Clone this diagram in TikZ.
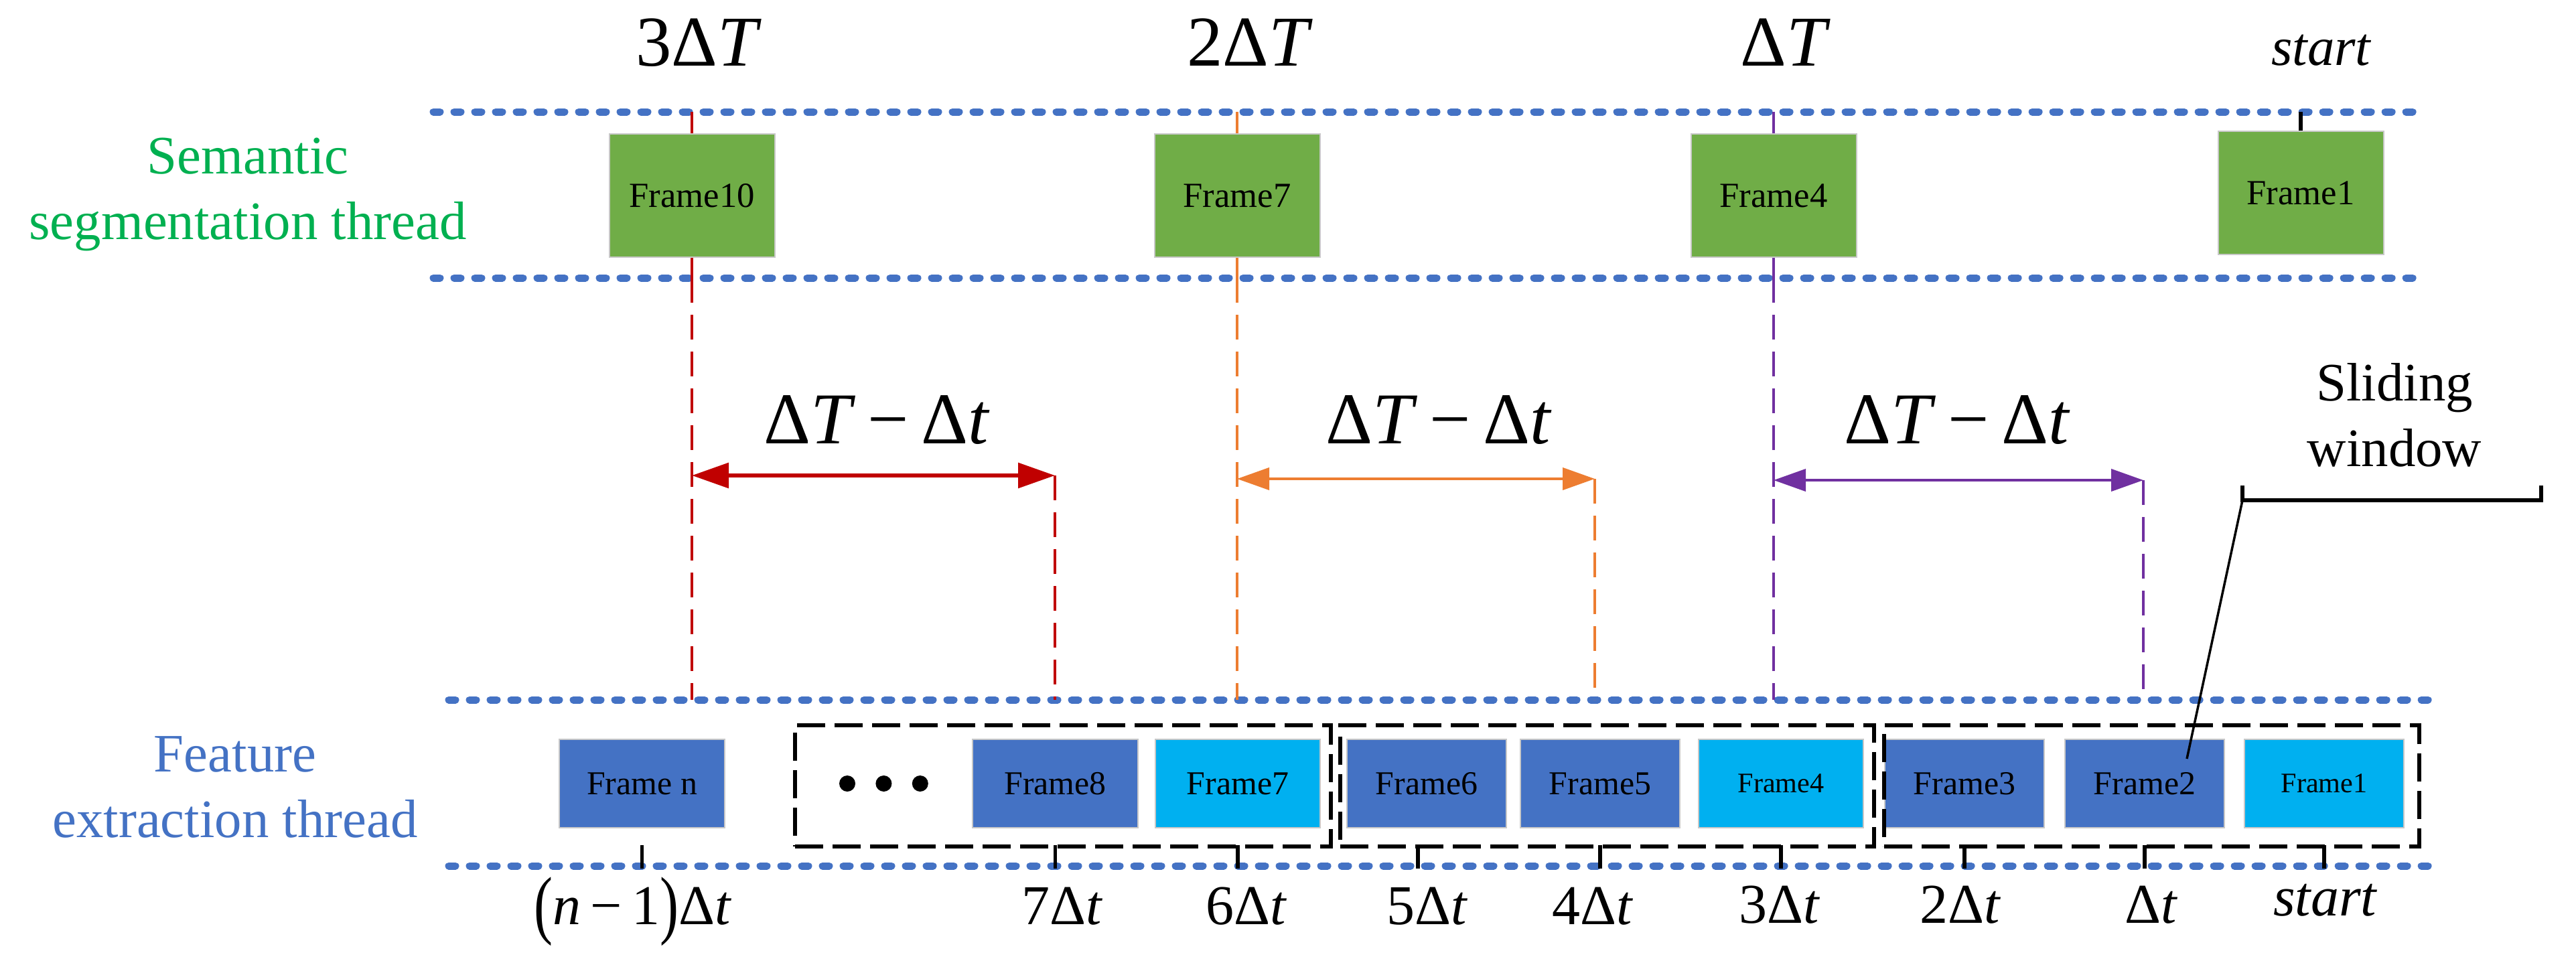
\documentclass[tikz,border=0pt]{standalone}
\usepackage{fontspec}
\usepackage{graphicx}
\setmainfont{Liberation Serif}
\usetikzlibrary{positioning,arrows.meta}

\definecolor{segGreen}{HTML}{70AD47}
\definecolor{segText}{HTML}{00B050}
\definecolor{featBlue}{HTML}{4472C4}
\definecolor{keyCyan}{HTML}{00B0F0}
\definecolor{gapRed}{HTML}{C00000}
\definecolor{gapOrange}{HTML}{ED7D31}
\definecolor{gapPurple}{HTML}{7030A0}
\definecolor{edgeGray}{HTML}{C8C8C8}

\newcommand{\dT}{Δ\textit{T}}
\newcommand{\dt}{Δ\textit{t}}
\newcommand{\tallparen}[1]{\raisebox{-0.1em}{\scalebox{1}[1.35]{#1}}}

\tikzset{
  lane/.style={draw=featBlue, line width=0.11cm, line cap=round,
    dash pattern=on 0.1cm off 0.21cm},
  segframe/.style={rectangle, fill=segGreen, draw=edgeGray, line width=0.02cm,
    minimum width=2.47cm, minimum height=1.84cm, inner sep=0pt,
    font=\fontsize{15}{18}\selectfont},
  featframe/.style={rectangle, fill=featBlue, draw=edgeGray, line width=0.02cm,
    minimum width=2.38cm, minimum height=1.32cm, inner sep=0pt,
    font=\fontsize{14.2}{17}\selectfont},
  keyframe/.style={featframe, fill=keyCyan},
  slidebox/.style={rectangle, draw=black, line width=0.06cm,
    dash pattern=on 0.42cm off 0.14cm, minimum height=1.81cm, inner sep=0pt},
  threadlbl/.style={align=center, inner sep=0pt, font=\fontsize{23}{27.9}\selectfont},
  bigtime/.style={anchor=base, inner sep=0pt, font=\fontsize{30.4}{36}\selectfont},
  smalltime/.style={anchor=base, inner sep=0pt, font=\fontsize{23.9}{29}\selectfont},
  gaplbl/.style={anchor=base, inner sep=0pt, font=\fontsize{31}{37}\selectfont},
  vdash/.style={line width=0.045cm, dash pattern=on 0.37cm off 0.18cm},
  gapwide/.style={line width=0.06cm, >={Triangle[length=0.55cm,width=0.37cm]}, <->},
  gapthin/.style={line width=0.04cm, >={Triangle[length=0.48cm,width=0.33cm]}, <->},
  timetick/.style={line width=0.055cm},
  dotmark/.style={circle, fill=black, minimum size=0.24cm, inner sep=0pt},
}

\begin{document}
\begin{tikzpicture}
  \useasboundingbox (0,0) rectangle (38.46,-14.37);
  \coordinate (laneA) at (0,-1.67);
  \coordinate (laneB) at (0,-4.15);
  \coordinate (laneC) at (0,-10.45);
  \coordinate (laneD) at (0,-12.93);
  \coordinate (tickTop) at (0,-12.62);

  % thread lanes
  \draw[lane] (6.47,-1.67) -- (36.07,-1.67);
  \draw[lane] (6.47,-4.15) -- (36.07,-4.15);
  \draw[lane] (6.70,-10.45) -- (36.39,-10.45);
  \draw[lane] (6.70,-12.93) -- (36.39,-12.93);

  \node (segLbl) [threadlbl, text=segText] at (3.70,-2.90) {Semantic\\segmentation thread};
  \node (featLbl) [threadlbl, text=featBlue] at (3.51,-11.75) {Feature\\extraction thread};

  % semantic segmentation thread
  \node (s10) [segframe] at (10.33,-2.92) {Frame10};
  \node (s7) [segframe] at (18.47,-2.92) {Frame7};
  \node (s4) [segframe] at (26.48,-2.92) {Frame4};
  \node (s1) [segframe] at (34.35,-2.88) {Frame1};

  \node (T3) [bigtime] at (10.43,-0.98) {3\dT};
  \node (T2) [bigtime] at (18.66,-0.98) {2\dT};
  \node (T1) [bigtime] at (26.66,-0.98) {\dT};
  \node (T0) [smalltime, font=\fontsize{23}{28}\selectfont] at (34.66,-0.97) {\textit{start}};
  \draw[timetick] (s1.north) -- (s1.north |- laneA);

  \draw[gapRed, vdash, solid] (s10.north) -- (s10.north |- laneA);
  \draw[gapRed, vdash, solid] (s10.south) -- (s10.south |- laneB);
  \draw[gapRed, vdash] (s10.south |- laneB) -- (s10.south |- laneC);
  \draw[gapOrange, vdash, solid] (s7.north) -- (s7.north |- laneA);
  \draw[gapOrange, vdash, solid] (s7.south) -- (s7.south |- laneB);
  \draw[gapOrange, vdash] (s7.south |- laneB) -- (s7.south |- laneC);
  \draw[gapPurple, vdash, solid] (s4.north) -- (s4.north |- laneA);
  \draw[gapPurple, vdash, solid] (s4.south) -- (s4.south |- laneB);
  \draw[gapPurple, vdash] (s4.south |- laneB) -- (s4.south |- laneC);

  % gaps between the two threads
  \coordinate (rA) at (10.33,-7.10);
  \coordinate (rB) at (15.75,-7.10);
  \draw[gapRed, gapwide] (rA) -- (rB);
  \draw[gapRed, vdash] (rB) -- (rB |- laneC);
  \node (gR) [gaplbl] at (13.09,-6.62) {\dT\,−\,\dt};

  \coordinate (oA) at (18.47,-7.15);
  \coordinate (oB) at (23.81,-7.15);
  \draw[gapOrange, gapthin] (oA) -- (oB);
  \draw[gapOrange, vdash] (oB) -- (oB |- laneC);
  \node (gO) [gaplbl] at (21.48,-6.62) {\dT\,−\,\dt};

  \coordinate (pA) at (26.48,-7.17);
  \coordinate (pB) at (32.00,-7.17);
  \draw[gapPurple, gapthin] (pA) -- (pB);
  \draw[gapPurple, vdash] (pB) -- (pB |- laneC);
  \node (gP) [gaplbl] at (29.22,-6.62) {\dT\,−\,\dt};

  % feature extraction thread
  \node (fn) [featframe, minimum width=2.47cm] at (9.585,-11.70) {Frame n};
  \node (dotA) [dotmark] at (12.65,-11.70) {};
  \node (dotB) [dotmark, right=0.29cm of dotA] {};
  \node (dotC) [dotmark, right=0.29cm of dotB] {};
  \node (f8) [featframe, minimum width=2.47cm] at (15.755,-11.70) {Frame8};
  \node (f7) [keyframe, minimum width=2.46cm, right=0.24cm of f8] {Frame7};
  \node (f6) [featframe] at (21.30,-11.70) {Frame6};
  \node (f5) [featframe, right=0.19cm of f6] {Frame5};
  \node (f4) [keyframe, minimum width=2.46cm, font=\fontsize{12}{14}\selectfont, right=0.26cm of f5] {Frame4};
  \node (f3) [featframe] at (29.33,-11.70) {Frame3};
  \node (f2) [featframe, right=0.29cm of f3] {Frame2};
  \node (f1) [keyframe, font=\fontsize{12}{14}\selectfont, right=0.28cm of f2] {Frame1};

  \node (w1) [slidebox, minimum width=8.00cm] at (15.87,-11.735) {};
  \node (w2) [slidebox, minimum width=7.97cm] at (23.995,-11.735) {};
  \node (w3) [slidebox, minimum width=7.99cm] at (32.125,-11.735) {};

  \draw[timetick] (fn.south |- tickTop) -- (fn.south |- laneD) -- ++(0,-0.04);
  \draw[timetick] (f8.south |- tickTop) -- (f8.south |- laneD) -- ++(0,-0.04);
  \draw[timetick] (f7.south |- tickTop) -- (f7.south |- laneD) -- ++(0,-0.04);
  \draw[timetick] ([xshift=-0.13cm]f6.south |- tickTop) -- ([xshift=-0.13cm]f6.south |- laneD) -- ++(0,-0.04);
  \draw[timetick] (f5.south |- tickTop) -- (f5.south |- laneD) -- ++(0,-0.04);
  \draw[timetick] (f4.south |- tickTop) -- (f4.south |- laneD) -- ++(0,-0.04);
  \draw[timetick] (f3.south |- tickTop) -- (f3.south |- laneD) -- ++(0,-0.04);
  \draw[timetick] (f2.south |- tickTop) -- (f2.south |- laneD) -- ++(0,-0.04);
  \draw[timetick] (f1.south |- tickTop) -- (f1.south |- laneD) -- ++(0,-0.04);

  \node (tn) [smalltime] at (9.45,-13.80) {\tallparen{(}\textit{n}\,−\,1\tallparen{)}\dt};
  \node (t7) [smalltime] at (15.86,-13.80) {7\dt};
  \node (t6) [smalltime] at (18.61,-13.80) {6\dt};
  \node (t5) [smalltime] at (21.31,-13.80) {5\dt};
  \node (t4) [smalltime] at (23.78,-13.80) {4\dt};
  \node (t3) [smalltime] at (26.57,-13.78) {3\dt};
  \node (t2) [smalltime] at (29.27,-13.78) {2\dt};
  \node (t1) [smalltime] at (32.12,-13.78) {\dt};
  \node (t0) [smalltime] at (34.72,-13.67) {\textit{start}};

  % sliding window callout
  \node (swLbl) [threadlbl] at (35.75,-6.20) {Sliding\\window};
  \coordinate (swTip) at (32.65,-11.33);
  \coordinate (swL) at (33.48,-7.47);
  \coordinate (swR) at (37.94,-7.47);
  \draw[line width=0.035cm] (swTip) -- (swL);
  \draw[line width=0.055cm] ([yshift=0.22cm]swL) -- (swL) -- (swR) -- ([yshift=0.22cm]swR);
\end{tikzpicture}
\end{document}
